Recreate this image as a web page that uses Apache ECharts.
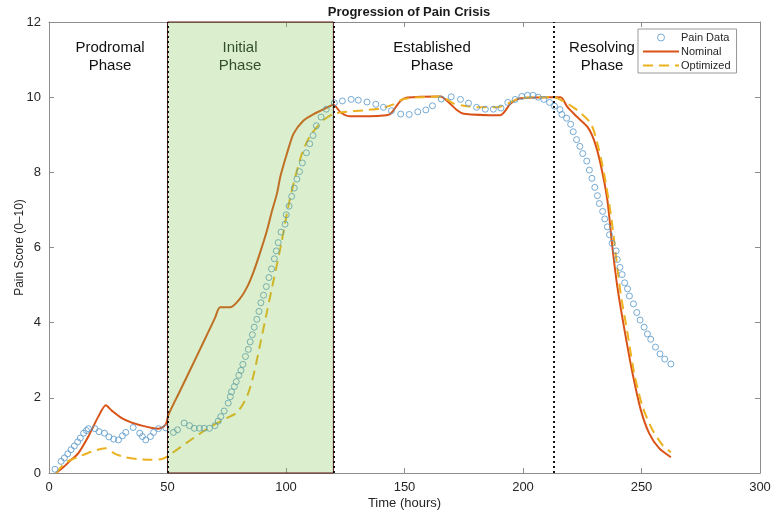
<!DOCTYPE html>
<html>
<head>
<meta charset="utf-8">
<title>Progression of Pain Crisis</title>
<script src="https://cdn.jsdelivr.net/npm/echarts@6/dist/echarts.min.js"></script>
<style>
  html, body { margin: 0; padding: 0; background: #fff; }
  #chart { width: 784px; height: 518px; }
</style>
</head>
<body>
<div id="chart"></div>
<script>
// pain data (circles)
const painHours = [2.5, 5.1, 6.5, 7.9, 9.3, 10.7, 12.1, 13.2, 14.6, 15.8, 16.6, 19.4, 21.1, 23.4, 25.3, 27.3, 29.3, 31.0, 32.4, 35.5,
  38.3, 39.4, 40.8, 42.8, 44.1, 46.2, 49.3, 52.5, 54.2, 57.0, 59.3, 61.3, 63.5, 65.5, 67.7, 70.0, 71.4, 72.5, 73.9, 75.6,
  76.5, 77.0, 78.2, 79.0, 80.1, 81.0, 81.8, 82.9, 84.1, 84.9, 85.8, 86.6, 87.7, 88.6, 89.4, 90.5, 91.7, 92.8, 93.9, 95.1,
  95.9, 96.7, 97.9, 99.6, 100.1, 101.3, 102.4, 103.5, 104.6, 105.7, 106.9, 108.6, 110.0, 111.4, 112.8, 114.8, 117.0, 120.4, 123.8, 127.5,
  130.5, 134.2, 137.9, 141.1, 144.5, 148.4, 152.0, 155.6, 159.0, 161.8, 165.5, 169.7, 173.6, 177.0, 180.4, 184.1, 187.5, 190.7, 193.6, 196.7,
  199.5, 201.9, 204.2, 206.4, 208.8, 211.2, 213.3, 215.6, 216.4, 218.4, 220.1, 221.2, 222.6, 224.0, 225.2, 226.9, 228.0, 229.1, 230.3, 231.4,
  232.2, 233.6, 234.5, 235.6, 236.5, 237.6, 239.3, 239.8, 240.9, 241.8, 242.9, 244.1, 244.9, 246.6, 248.0, 249.4, 251.1, 252.5, 253.9, 255.9,
  257.8, 259.8, 262.4]
const painScores = [0.10, 0.31, 0.40, 0.51, 0.62, 0.72, 0.83, 0.93, 1.06, 1.13, 1.18, 1.18, 1.10, 1.06, 0.96, 0.90, 0.88, 0.99, 1.08, 1.21,
  1.06, 0.97, 0.88, 0.97, 1.08, 1.18, 1.20, 1.08, 1.15, 1.33, 1.26, 1.19, 1.19, 1.19, 1.19, 1.26, 1.38, 1.50, 1.65, 1.86,
  2.03, 2.16, 2.30, 2.43, 2.60, 2.73, 2.89, 3.10, 3.29, 3.49, 3.68, 3.88, 4.09, 4.30, 4.53, 4.73, 4.96, 5.20, 5.43, 5.70,
  5.91, 6.13, 6.41, 6.62, 6.87, 7.10, 7.36, 7.58, 7.82, 8.02, 8.25, 8.52, 8.76, 8.98, 9.24, 9.47, 9.68, 9.85, 9.90, 9.94,
  9.92, 9.87, 9.81, 9.73, 9.64, 9.55, 9.54, 9.61, 9.66, 9.77, 9.95, 10.01, 9.94, 9.84, 9.73, 9.68, 9.68, 9.71, 9.86, 9.94,
  10.02, 10.05, 10.05, 10.00, 9.94, 9.86, 9.76, 9.67, 9.54, 9.44, 9.28, 9.08, 8.87, 8.69, 8.50, 8.30, 8.06, 7.84, 7.60, 7.38,
  7.17, 6.96, 6.76, 6.55, 6.34, 6.11, 5.91, 5.68, 5.47, 5.28, 5.06, 4.90, 4.71, 4.50, 4.27, 4.07, 3.88, 3.70, 3.56, 3.35,
  3.17, 3.03, 2.90]

// nominal model (solid)
const nominalHours = [3, 6, 9, 12.4, 16.6, 20.8, 24, 26.5, 30.7, 34.9, 39.2, 43.4, 46.2, 48.5, 49.6, 50.4, 55, 60, 65, 70,
  72.2, 76.5, 80.7, 84, 86.3, 89, 92, 94, 96.2, 97.6, 100.4, 103.2, 107.4, 111.7, 117.3, 120, 123, 127, 135.6, 141.2,
  144.1, 148.3, 151.1, 165.2, 168, 172.2, 175, 190.4, 194.8, 199, 211.7, 215.9, 218.7, 222.9, 227.2, 230, 232.7, 235.6, 237.7, 239.8,
  242.6, 246.2, 249.7, 253.2, 257.4, 262.4]
const nominalScores = [0, 0.15, 0.33, 0.53, 0.97, 1.5, 1.8, 1.66, 1.46, 1.34, 1.26, 1.2, 1.18, 1.24, 1.34, 1.55, 2.15, 2.8, 3.46, 4.12,
  4.41, 4.41, 4.65, 5.0, 5.35, 5.85, 6.46, 6.95, 7.44, 7.88, 8.5, 9.03, 9.38, 9.55, 9.72, 9.8, 9.6, 9.49, 9.49, 9.51,
  9.56, 9.9, 9.99, 10.02, 9.9, 9.65, 9.56, 9.52, 9.83, 9.97, 10.0, 10.0, 9.74, 9.47, 9.21, 8.85, 8.23, 7.26, 6.02, 4.96,
  3.89, 2.66, 1.68, 1.06, 0.66, 0.42]

// optimized model (dashed)
const optimizedHours = [3, 6.8, 12.4, 18, 23.7, 27.9, 32.1, 37.7, 43.4, 47.6, 50.4, 58.2, 66.6, 73.6, 79.3, 83.5, 86.3, 89, 92, 95,
  98, 101, 104, 107, 110, 113, 116, 120.1, 125.8, 132.8, 139.9, 145.3, 149.6, 156.6, 165.2, 170.8, 175, 182.1, 189.1, 193.4,
  197.6, 201.8, 213.1, 215.9, 218.7, 222.9, 228.6, 231.4, 234.2, 237, 239.1, 241.2, 244.1, 246.9, 250.4, 254.6, 258.8, 262.4]
const optimizedScores = [0, 0.27, 0.43, 0.57, 0.66, 0.51, 0.42, 0.37, 0.35, 0.37, 0.46, 0.81, 1.17, 1.42, 1.61, 2.03, 2.6, 3.4, 4.3, 5.2,
  6.1, 7.1, 7.9, 8.55, 8.95, 9.2, 9.4, 9.56, 9.61, 9.65, 9.7, 9.81, 9.95, 10.0, 10.02, 9.83, 9.77, 9.73, 9.73, 9.83,
  9.95, 9.99, 10.0, 9.93, 9.83, 9.65, 9.3, 8.77, 7.97, 6.91, 5.84, 4.78, 3.72, 2.66, 1.77, 1.15, 0.75, 0.55]

// phase boundaries (hours)
const phaseBounds = [50, 120, 213]
const initialPhase = [50, 120]

const zip = (xs, ys) => xs.map((x, i) => [x, ys[i]])

const font = '"Liberation Sans", Arial, sans-serif'
const axisGray = '#8c8c8c'
const circleBlue = '#5696c8'

const valueAxis = (extra) => Object.assign({
  type: 'value',
  nameMoveOverlap: false,
  axisLine: { show: true, onZero: false, lineStyle: { color: axisGray, width: 1 } },
  axisTick: { show: true, inside: true, length: 5, lineStyle: { color: axisGray } },
  splitLine: { show: false },
  axisLabel: { color: '#262626', fontSize: 13, fontFamily: font }
}, extra)

let myChart = echarts.init(document.getElementById('chart'), null, { renderer: 'canvas' })

let option = {
  backgroundColor: '#fff',
  animation: false,
  title: {
    text: 'Progression of Pain Crisis',
    left: 404,
    textAlign: 'center',
    top: 1,
    textStyle: { fontSize: 13, fontWeight: 'bold', color: '#1a1a1a', fontFamily: font }
  },
  grid: { left: 49, right: 24, top: 22, bottom: 45, containLabel: false },
  legend: {
    orient: 'vertical',
    left: 638,
    top: 29,
    itemWidth: 36,
    itemHeight: 7,
    itemGap: 3,
    padding: [3, 6, 2, 4],
    backgroundColor: '#fff',
    borderColor: '#999',
    borderWidth: 1,
    borderRadius: 0,
    textStyle: { fontSize: 11, color: '#262626', fontFamily: font, padding: [0, 0, 0, -3] },
    data: [
      { name: 'Pain Data', icon: 'circle', itemStyle: { color: 'rgba(0,0,0,0)', borderColor: circleBlue, borderWidth: 1 } },
      { name: 'Nominal', itemStyle: { opacity: 0 } },
      { name: 'Optimized', itemStyle: { opacity: 0 } }
    ]
  },
  xAxis: [
    valueAxis({
      min: 0, max: 300, interval: 50,
      name: 'Time (hours)', nameLocation: 'middle', nameGap: 24,
      nameTextStyle: { fontSize: 13, color: '#262626', fontFamily: font }
    }),
    valueAxis({ min: 0, max: 300, interval: 50, position: 'top', axisLabel: { show: false } })
  ],
  yAxis: [
    valueAxis({
      min: 0, max: 12, interval: 2,
      name: 'Pain Score (0–10)', nameLocation: 'middle', nameGap: 23,
      nameTextStyle: { fontSize: 12, color: '#262626', fontFamily: font }
    }),
    valueAxis({ min: 0, max: 12, interval: 2, position: 'right', axisLabel: { show: false } })
  ],
  graphic: [
    {
      type: 'text', x: 110, y: 57,
      style: { text: 'Prodromal\nPhase', align: 'center', verticalAlign: 'middle', fontSize: 15, lineHeight: 18, fontFamily: font, fill: '#111' }
    },
    {
      type: 'text', x: 240, y: 57, z: 20,
      style: { text: 'Initial\nPhase', align: 'center', verticalAlign: 'middle', fontSize: 15, lineHeight: 18, fontFamily: font, fill: '#34502a' }
    },
    {
      type: 'text', x: 432, y: 57,
      style: { text: 'Established\nPhase', align: 'center', verticalAlign: 'middle', fontSize: 15, lineHeight: 18, fontFamily: font, fill: '#111' }
    },
    {
      type: 'text', x: 602, y: 57,
      style: { text: 'Resolving\nPhase', align: 'center', verticalAlign: 'middle', fontSize: 15, lineHeight: 18, fontFamily: font, fill: '#111' }
    }
  ],
  series: [
    {
      name: 'Pain Data',
      type: 'scatter',
      z: 3,
      symbol: 'circle',
      symbolSize: 6,
      itemStyle: { color: 'rgba(0,0,0,0)', borderColor: circleBlue, borderWidth: 1 },
      data: zip(painHours, painScores)
    },
    {
      name: 'Nominal',
      type: 'line',
      z: 2,
      showSymbol: false,
      symbol: 'none',
      smooth: 0.25,
      itemStyle: { color: '#d95319' },
      lineStyle: { color: '#d95319', width: 2 },
      data: zip(nominalHours, nominalScores)
    },
    {
      name: 'Optimized',
      type: 'line',
      z: 2,
      showSymbol: false,
      symbol: 'none',
      smooth: 0.25,
      itemStyle: { color: '#edb120' },
      lineStyle: { color: '#edb120', width: 2, type: [10, 6] },
      data: zip(optimizedHours, optimizedScores)
    },
    {
      // translucent green overlay for the initial phase
      type: 'line',
      z: 8,
      silent: true,
      data: [],
      markArea: {
        silent: true,
        z: 8,
        itemStyle: { color: 'rgba(121, 192, 72, 0.27)', borderColor: '#5c1414', borderWidth: 1 },
        data: [[{ xAxis: initialPhase[0], yAxis: 0 }, { xAxis: initialPhase[1], yAxis: 12 }]]
      }
    },
    {
      // dotted phase boundaries
      type: 'line',
      z: 9,
      silent: true,
      data: [],
      markLine: {
        silent: true,
        z: 9,
        symbol: 'none',
        label: { show: false },
        lineStyle: { color: '#111', width: 2, type: [2, 3] },
        data: phaseBounds.map(v => ({ xAxis: v }))
      }
    }
  ]
}

myChart.setOption(option)
</script>
</body>
</html>
